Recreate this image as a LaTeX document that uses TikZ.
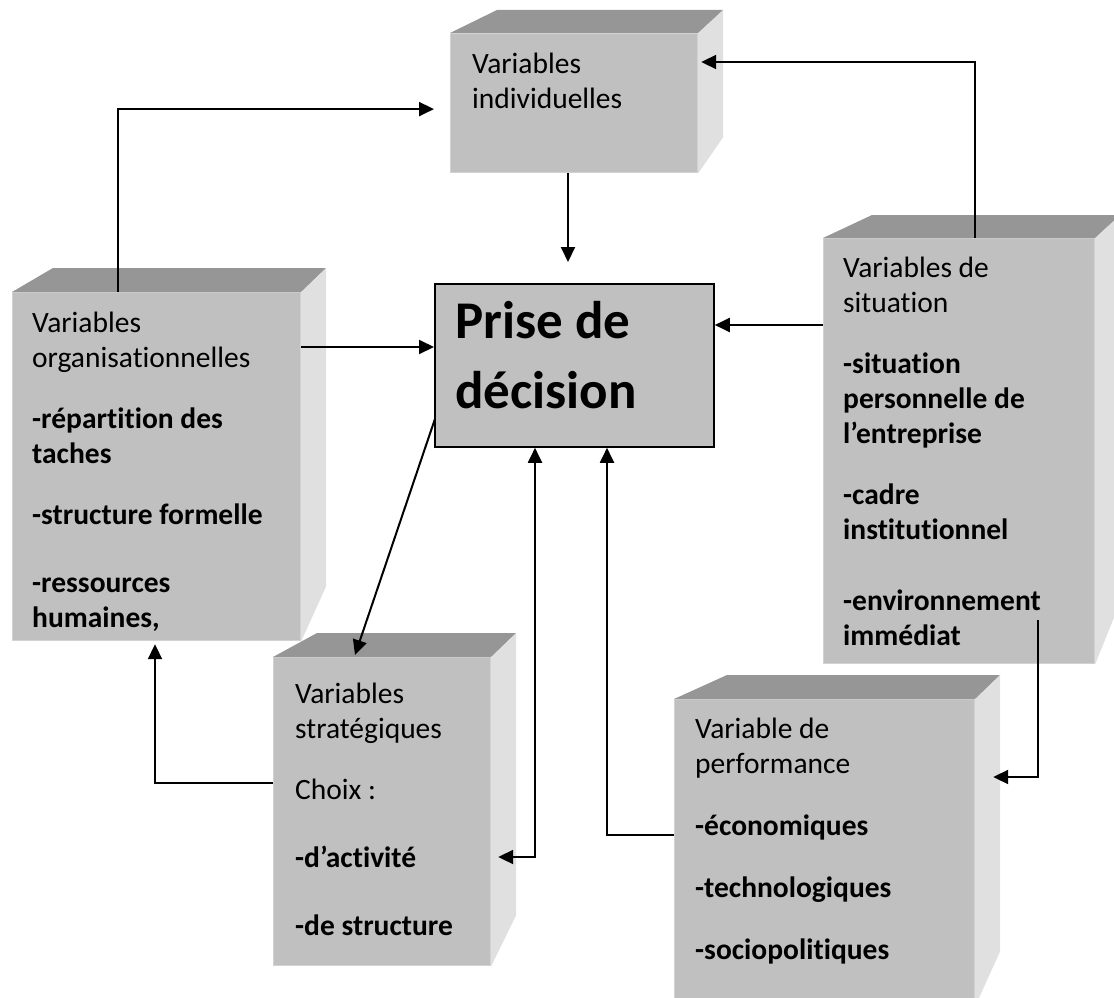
\documentclass[tikz,border=0pt]{standalone}
\usepackage{fontspec}
\setmainfont{Carlito}[Ligatures=NoCommon]
\usetikzlibrary{arrows.meta}
\definecolor{frontgray}{HTML}{C0C0C0}
\definecolor{topgray}{HTML}{969696}
\definecolor{sidegray}{HTML}{E0E0E0}
\definecolor{rimgray}{HTML}{D2D2D2}
\tikzset{
  front/.style={rectangle, fill=frontgray, draw=rimgray, line width=1.2pt, inner sep=0pt, anchor=north west},
  prisebox/.style={rectangle, fill=frontgray, draw=black, line width=1.8pt, inner sep=0pt, anchor=north west},
  topface/.style={fill=topgray},
  sideface/.style={fill=sidegray},
  boxtext/.style={anchor=north west, inner sep=0pt, align=left, font=\fontsize{29.5}{35}\selectfont},
  prisetext/.style={anchor=north west, inner sep=0pt, align=left, font=\fontsize{53}{70}\selectfont\bfseries},
  arr/.style={line width=2pt, -{Triangle[length=15pt,width=14pt]}},
  arrboth/.style={line width=2pt, {Triangle[length=15pt,width=14pt]}-{Triangle[length=15pt,width=14pt]}}
}
\begin{document}
\begin{tikzpicture}[x=1pt,y=-1pt]
 \useasboundingbox (0,0) rectangle (1114,998);

 \node[front, minimum width=247pt, minimum height=139pt] (indiv) at (450,33) {};
 \fill[topface] (indiv.north west) -- ++(47,-23) -- ([shift={(25,-23)}]indiv.north east) -- (indiv.north east) -- cycle;
 \fill[sideface] (indiv.north east) -- ++(25,-23) -- ([shift={(25,-36)}]indiv.south east) -- (indiv.south east) -- cycle;

 \node[front, minimum width=288pt, minimum height=348pt] (org) at (12,292) {};
 \fill[topface] (org.north west) -- ++(41,-24) -- ([shift={(25,-24)}]org.north east) -- (org.north east) -- cycle;
 \fill[sideface] (org.north east) -- ++(25,-24) -- ([shift={(25,-55)}]org.south east) -- (org.south east) -- cycle;

 \node[front, minimum width=217pt, minimum height=308pt] (strat) at (273,657) {};
 \fill[topface] (strat.north west) -- ++(44,-24) -- ([shift={(25,-24)}]strat.north east) -- (strat.north east) -- cycle;
 \fill[sideface] (strat.north east) -- ++(25,-24) -- ([shift={(25,-51)}]strat.south east) -- (strat.south east) -- cycle;

 \node[front, minimum width=271pt, minimum height=425pt] (sit) at (823,238) {};
 \fill[topface] (sit.north west) -- ++(49,-23) -- ([shift={(25,-23)}]sit.north east) -- (sit.north east) -- cycle;
 \fill[sideface] (sit.north east) -- ++(25,-23) -- ([shift={(25,-62)}]sit.south east) -- (sit.south east) -- cycle;

 \node[front, minimum width=300pt, minimum height=306pt] (perf) at (674,699) {};
 \fill[topface] (perf.north west) -- ++(53,-24) -- ([shift={(25,-24)}]perf.north east) -- (perf.north east) -- cycle;
 \fill[sideface] (perf.north east) -- ++(25,-24) -- ([shift={(25,-55)}]perf.south east) -- (perf.south east) -- cycle;

 \node[prisebox, minimum width=279pt, minimum height=163pt] (prise) at (434,283) {};

 \node[boxtext] (indivtxt) at (472,53) {Variables\\individuelles};
 \node[boxtext] (orgtxt) at (32,312) {Variables\\organisationnelles\\[26pt]
   \textbf{-répartition des}\\\textbf{taches}\\[26pt]
   \textbf{-structure formelle}\\[33pt]
   \textbf{-ressources}\\\textbf{humaines,}};
 \node[boxtext] (strattxt) at (295,683) {Variables\\stratégiques\\[26pt]
   Choix :\\[33pt]
   \textbf{-d’activité}\\[33pt]
   \textbf{-de structure}};
 \node[boxtext] (sittxt) at (843,257) {Variables de\\situation\\[26pt]
   \textbf{-situation}\\\textbf{personnelle de}\\\textbf{l’entreprise}\\[26pt]
   \textbf{-cadre}\\\textbf{institutionnel}\\[36pt]
   \textbf{-environnement}\\\textbf{immédiat}};
 \node[boxtext] (perftxt) at (695,718) {Variable de\\performance\\[27pt]
   \textbf{-économiques}\\[27pt]
   \textbf{-technologiques}\\[27pt]
   \textbf{-sociopolitiques}};
 \node[prisetext] (prisetxt) at (455,301) {Prise de\\décision};

 \draw[arr] ([shift={(106,0)}]org.north west) |- ([shift={(-16,6)}]indiv.west);
 \draw[arr] ([shift={(118,0)}]indiv.south west) -- ([shift={(134,-21)}]prise.north west);
 \draw[arr] ([shift={(0,55)}]org.north east) -- ([shift={(0,64)}]prise.north west);
 \draw[arr] ([shift={(0,87)}]sit.north west) -- ([shift={(0,42)}]prise.north east);
 \draw[arr] ([shift={(152,0)}]sit.north west) |- ([shift={(3,29)}]indiv.north east);
 \draw[arr] ([shift={(1,-29)}]prise.south west) -- ([shift={(82,-2)}]strat.north west);
 \draw[arrboth] ([shift={(101,0)}]prise.south west) |- ([shift={(7,200)}]strat.north east);
 \draw[arr] ([shift={(0,136)}]perf.north west) -| ([shift={(173,0)}]prise.south west);
 \draw[arr] ([shift={(0,126)}]strat.north west) -| ([shift={(143,3)}]org.south west);
 \draw[arr] ([shift={(215,382)}]sit.north west) |- ([shift={(18,78)}]perf.north east);
\end{tikzpicture}
\end{document}
